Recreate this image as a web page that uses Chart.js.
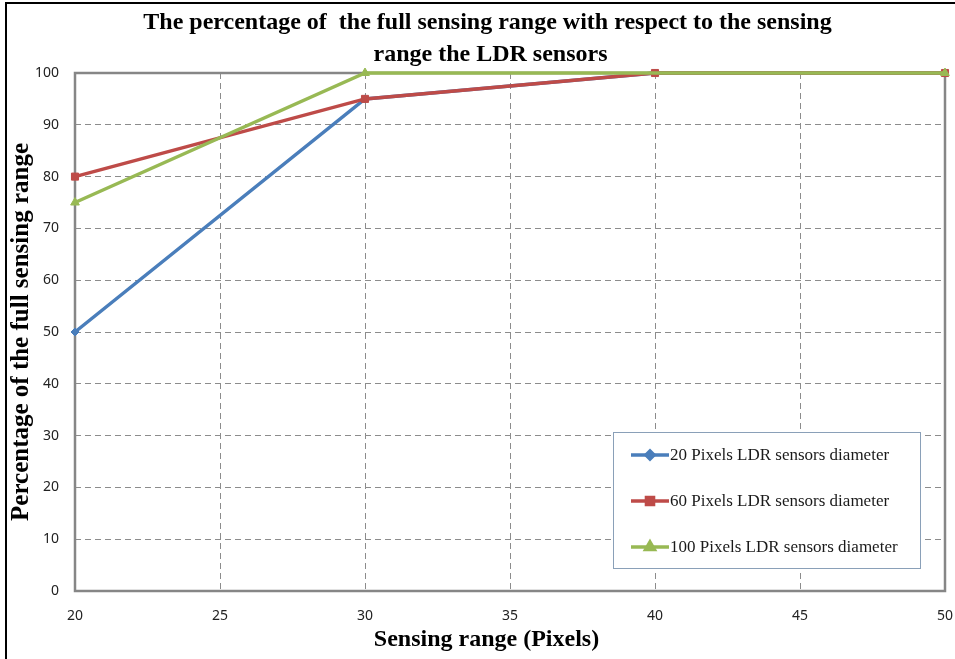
<!DOCTYPE html>
<html>
<head>
<meta charset="utf-8">
<script src="https://cdn.jsdelivr.net/npm/chart.js@4.4.1/dist/chart.umd.min.js"></script>
<style>
  html, body { margin: 0; padding: 0; background: #fff; }
  #wrap { width: 955px; height: 659px; position: relative; }
</style>
</head>
<body>
<div id="wrap"><canvas id="cvs"></canvas></div>
<script>
  'use strict'
  // values
  var seriesNames = [
    '20 Pixels LDR sensors diameter',
    '60 Pixels LDR sensors diameter',
    '100 Pixels LDR sensors diameter'
  ]
  var rangeBlue = [20, 30, 40, 50]
  var valuesBlue = [50, 95, 100, 100]
  var rangeRed = [20, 30, 40, 50]
  var valuesRed = [80, 95, 100, 100]
  var rangeGreen = [20, 30, 50]
  var valuesGreen = [75, 100, 100]
  var titleLines = [
    'The percentage of  the full sensing range with respect to the sensing',
    'range the LDR sensors'
  ]
  var xTitle = 'Sensing range (Pixels)'
  var yTitle = 'Percentage of the full sensing range'

  var serif = '"Liberation Serif", "Times New Roman", serif'
  var sans = '"Noto Sans", "Open Sans", sans-serif'
  var gridColor = '#8c8c8c'

  function pts(xs, ys) {
    return xs.map(function (x, i) { return { x: x, y: ys[i] } })
  }

  function series(label, xs, ys, color, style, radius, order) {
    return {
      label: label,
      data: pts(xs, ys),
      borderColor: color,
      backgroundColor: color,
      pointBackgroundColor: color,
      pointBorderColor: color,
      borderWidth: 3.5,
      pointStyle: style,
      pointRadius: radius,
      pointBorderWidth: 1,
      lineTension: 0,
      clip: false,
      order: order
    }
  }

  var frame = {
    id: 'frame',
    beforeDraw: function (chart) {
      var ctx = chart.ctx
      ctx.save()
      ctx.fillStyle = '#000'
      ctx.fillRect(5, 2, 2, chart.height - 2)
      ctx.fillRect(5, 2, chart.width - 5, 2)
      ctx.restore()
    },
    beforeDatasetsDraw: function (chart) {
      var a = chart.chartArea
      var ctx = chart.ctx
      ctx.save()
      ctx.strokeStyle = '#868686'
      ctx.lineWidth = 2.5
      ctx.strokeRect(a.left, a.top, a.right - a.left, a.bottom - a.top)
      ctx.restore()
    }
  }

  // the chart title and x title sit a bit left of the plot centre in the original
  var titles = {
    id: 'titles',
    afterDraw: function (chart) {
      var ctx = chart.ctx
      var cx = chart.width / 2 + 10
      ctx.save()
      ctx.fillStyle = '#000'
      ctx.textAlign = 'center'
      ctx.textBaseline = 'middle'
      ctx.font = 'bold 24px ' + serif
      ctx.fillText(titleLines[0], cx, 23)
      ctx.fillText(titleLines[1], cx + 3, 55)
      ctx.fillText(xTitle, cx - 1, chart.height - 19)
      ctx.restore()
    }
  }

  // legend drawn inside the plot, lower right
  var boxLegend = {
    id: 'boxLegend',
    afterDraw: function (chart) {
      var a = chart.chartArea
      var ctx = chart.ctx
      var x = a.right - 332, y = a.bottom - 159, w = 307, h = 136
      ctx.save()
      ctx.fillStyle = '#fff'
      ctx.fillRect(x, y, w, h)
      ctx.strokeStyle = '#8aa0b8'
      ctx.lineWidth = 1
      ctx.strokeRect(x + 0.5, y + 0.5, w, h)
      ctx.font = '17px ' + serif
      ctx.textBaseline = 'middle'
      chart.data.datasets.forEach(function (ds, i) {
        var cy = y + 23 + i * 46
        ctx.strokeStyle = ds.borderColor
        ctx.lineWidth = 3.5
        ctx.beginPath()
        ctx.moveTo(x + 18, cy)
        ctx.lineTo(x + 56, cy)
        ctx.stroke()
        Chart.helpers.drawPoint(ctx, {
          pointStyle: ds.pointStyle, radius: ds.pointRadius, borderWidth: 1, rotation: 0
        }, x + 37, cy)
        ctx.fillStyle = ds.borderColor
        ctx.fill()
        ctx.fillStyle = '#1a1a1a'
        ctx.fillText(ds.label, x + 57, cy + 1)
      })
      ctx.restore()
    }
  }

  var config = {
    type: 'line',
    data: {
      datasets: [
        series(seriesNames[0], rangeBlue, valuesBlue, '#4a7ebb', 'rectRot', 4, 2),
        series(seriesNames[1], rangeRed, valuesRed, '#be4b48', 'rect', 5, 1),
        series(seriesNames[2], rangeGreen, valuesGreen, '#98b954', 'triangle', 5, 0)
      ]
    },
    options: {
      responsive: false,
      animation: false,
      layout: { padding: { left: 0, right: 10, top: 73, bottom: 0 } },
      plugins: {
        legend: { display: false },
        tooltip: { enabled: false },
        title: { display: false }
      },
      scales: {
        x: {
          type: 'linear',
          min: 20,
          max: 50,
          afterFit: function (axis) {
            axis.height = 68
            axis.paddingLeft = 0
            axis.paddingRight = 0
          },
          ticks: { stepSize: 5, color: '#222', padding: 17, font: { family: sans, size: 14 } },
          grid: { color: gridColor, lineWidth: 1, drawTicks: false },
          border: { display: false, dash: [6, 4] }
        },
        y: {
          min: 0,
          max: 100,
          afterFit: function (axis) {
            axis.width = 75
            axis.paddingTop = 0
            axis.paddingBottom = 0
          },
          ticks: { stepSize: 10, color: '#222', padding: 16, font: { family: sans, size: 14 } },
          grid: { color: gridColor, lineWidth: 1, drawTicks: false },
          border: { display: false, dash: [6, 4] },
          title: {
            display: true,
            text: yTitle,
            color: '#000',
            font: { family: serif, size: 25, weight: 'bold', lineHeight: 1.2 },
            padding: { top: 7, bottom: 0 }
          }
        }
      }
    },
    plugins: [frame, titles, boxLegend]
  }

  var cvs = document.getElementById('cvs')
  cvs.width = 955
  cvs.height = 659
  new Chart(cvs, config)
</script>
</body>
</html>
